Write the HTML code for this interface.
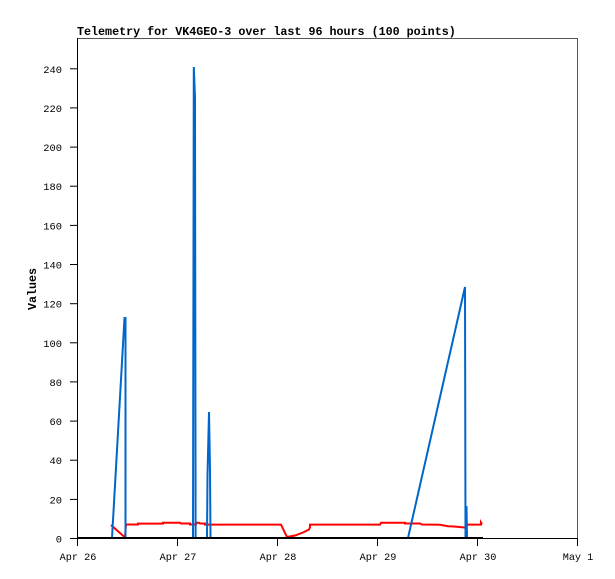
<!DOCTYPE html>
<html><head><meta charset="utf-8"><style>
html,body{margin:0;padding:0;background:#fff;}
svg{display:block;}
text{font-family:"Liberation Mono",monospace;fill:#000;}
</style></head><body>
<svg width="615" height="579" viewBox="0 0 615 579" xmlns="http://www.w3.org/2000/svg">
<rect x="0" y="0" width="615" height="579" fill="#fff"/>
<!-- frame -->
<line x1="77" y1="38.5" x2="577" y2="38.5" stroke="#555" stroke-width="1"/>
<line x1="577.5" y1="38" x2="577.5" y2="538" stroke="#555" stroke-width="1"/>
<line x1="77.5" y1="38" x2="77.5" y2="539" stroke="#000" stroke-width="1"/>
<line x1="70" y1="538.5" x2="578" y2="538.5" stroke="#000" stroke-width="1"/>
<!-- title -->
<text x="77" y="35" font-size="11.7" font-weight="bold">Telemetry for VK4GEO-3 over last 96 hours (100 points)</text>
<!-- y label -->
<text transform="translate(36,289) rotate(-90)" text-anchor="middle" font-size="11.7" font-weight="bold">Values</text>
<!-- y ticks -->
<g stroke="#000" stroke-width="1">
<line x1="70" y1="538.5" x2="77" y2="538.5"/>
<line x1="70" y1="499.4" x2="77" y2="499.4"/>
<line x1="70" y1="460.2" x2="77" y2="460.2"/>
<line x1="70" y1="421.1" x2="77" y2="421.1"/>
<line x1="70" y1="381.9" x2="77" y2="381.9"/>
<line x1="70" y1="342.8" x2="77" y2="342.8"/>
<line x1="70" y1="303.7" x2="77" y2="303.7"/>
<line x1="70" y1="264.5" x2="77" y2="264.5"/>
<line x1="70" y1="225.4" x2="77" y2="225.4"/>
<line x1="70" y1="186.2" x2="77" y2="186.2"/>
<line x1="70" y1="147.1" x2="77" y2="147.1"/>
<line x1="70" y1="107.9" x2="77" y2="107.9"/>
<line x1="70" y1="68.8" x2="77" y2="68.8"/>
</g>
<g font-size="10.4" text-anchor="end">
<text x="62" y="542.5">0</text>
<text x="62" y="503.4">20</text>
<text x="62" y="464.2">40</text>
<text x="62" y="425.1">60</text>
<text x="62" y="385.9">80</text>
<text x="62" y="346.8">100</text>
<text x="62" y="307.7">120</text>
<text x="62" y="268.5">140</text>
<text x="62" y="229.4">160</text>
<text x="62" y="190.2">180</text>
<text x="62" y="151.1">200</text>
<text x="62" y="111.9">220</text>
<text x="62" y="72.8">240</text>
</g>
<!-- x ticks -->
<g stroke="#000" stroke-width="1">
<line x1="77.5" y1="538" x2="77.5" y2="546"/>
<line x1="177.5" y1="538" x2="177.5" y2="546"/>
<line x1="277.5" y1="538" x2="277.5" y2="546"/>
<line x1="377.5" y1="538" x2="377.5" y2="546"/>
<line x1="477.5" y1="538" x2="477.5" y2="546"/>
<line x1="577.5" y1="538" x2="577.5" y2="546"/>
</g>
<g font-size="10.2" text-anchor="middle">
<text x="78" y="560">Apr 26</text>
<text x="178" y="560">Apr 27</text>
<text x="278" y="560">Apr 28</text>
<text x="378" y="560">Apr 29</text>
<text x="478" y="560">Apr 30</text>
<text x="578" y="560">May 1</text>
</g>
<!-- red series -->
<polyline fill="none" stroke="#ff0000" stroke-width="2" stroke-linejoin="miter"
points="111,525 125,537.5 125.5,530 126,524.5 138,524.5 138,523.6 163,523.6 163,522.7 180,522.7 181,523.5 190,523.5 190,524.5 196,524.5 197,522.7 199,522.7 200,523.5 205,523.5 205,524.6 281,524.6 287,537 295,535.5 303,532.5 309,529.5 310,527 310,524.6 380,524.6 381,522.7 405,522.7 405,523.5 420,523.5 422,524.5 440,524.8 448,526.2 454,526.5 462,527.2 466,527.6 466.5,524.6 481,524.6 481,522.5 482,524.2"/>
<!-- blue series -->
<polyline fill="none" stroke="#0066cc" stroke-width="2" stroke-linejoin="miter"
points="112,538 124.5,318 125.5,318 125.5,538 193,538 193.8,67 195,98 195.6,538 207,538 207.5,475 209,412 210,470 210.5,538 408,538 465,287 465.5,538 466.5,506 467,538 483,538"/>
<!-- black series (zero) -->
<line x1="77" y1="538" x2="483" y2="538" stroke="#000" stroke-width="2"/>
</svg>
</body></html>
